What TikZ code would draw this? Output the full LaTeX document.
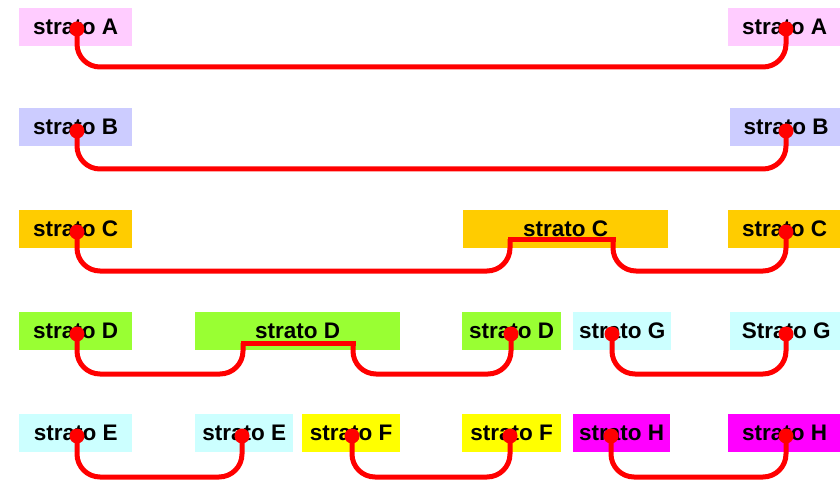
\documentclass[tikz,border=0pt]{standalone}
\usepackage{fontspec}
\setmainfont{Liberation Sans}
\begin{document}
\begin{tikzpicture}[x=1pt,y=-1pt,
  lab/.style={anchor=north west,inner sep=0pt,minimum height=38pt,
    font=\fontsize{22.5}{26}\selectfont\bfseries,text=black},
  conn/.style={draw=red,line width=5pt,rounded corners=23pt},
  flat/.style={draw=red,line width=5pt,line cap=rect},
  dot/.style={fill=red}]
\useasboundingbox (0,0) rectangle (840,481);
\definecolor{cpink}{HTML}{FFCCFF}
\definecolor{clav}{HTML}{CCCCFF}
\definecolor{corange}{HTML}{FFCC00}
\definecolor{cgreen}{HTML}{99FF33}
\definecolor{ccyan}{HTML}{CCFFFF}
\definecolor{cyellow}{HTML}{FFFF00}
\definecolor{cmag}{HTML}{FF00FF}
% row 1
\node[lab,fill=cpink,minimum width=113pt] (A1) at (19,8) {strato A};
\node[lab,fill=cpink,minimum width=113pt] (A2) at (728,8) {strato A};
% row 2
\node[lab,fill=clav,minimum width=113pt] (B1) at (19,108) {strato B};
\node[lab,fill=clav,minimum width=112pt] (B2) at (730,108) {strato B};
% row 3
\node[lab,fill=corange,minimum width=113pt] (C1) at (19,210) {strato C};
\node[lab,fill=corange,minimum width=205pt] (C2) at (463,210) {strato C};
\node[lab,fill=corange,minimum width=113pt] (C3) at (728,210) {strato C};
% row 4
\node[lab,fill=cgreen,minimum width=113pt] (D1) at (19,312) {strato D};
\node[lab,fill=cgreen,minimum width=205pt] (D2) at (195,312) {strato D};
\node[lab,fill=cgreen,minimum width=99pt] (D3) at (462,312) {strato D};
\node[lab,fill=ccyan,minimum width=98pt] (G1) at (573,312) {strato G};
\node[lab,fill=ccyan,minimum width=112pt] (G2) at (730,312) {Strato G};
% row 5
\node[lab,fill=ccyan,minimum width=113pt] (E1) at (19,414) {strato E};
\node[lab,fill=ccyan,minimum width=98pt] (E2) at (195,414) {strato E};
\node[lab,fill=cyellow,minimum width=98pt] (F1) at (302,414) {strato F};
\node[lab,fill=cyellow,minimum width=99pt] (F2) at (462,414) {strato F};
\node[lab,fill=cmag,minimum width=97pt] (H1) at (573,414) {strato H};
\node[lab,fill=cmag,minimum width=113pt] (H2) at (728,414) {strato H};
% dot coordinates
\coordinate (a1) at (77,29);  \coordinate (a2) at (786,29);
\coordinate (b1) at (77,131); \coordinate (b2) at (786,131);
\coordinate (c1) at (77,232); \coordinate (c3) at (786,232);
\coordinate (c2l) at (510,239); \coordinate (c2r) at (613,239);
\coordinate (d1) at (77,334); \coordinate (d3) at (511,334);
\coordinate (d2l) at (243,343); \coordinate (d2r) at (353,343);
\coordinate (g1) at (612,334); \coordinate (g2) at (786,334);
\coordinate (e1) at (77,436); \coordinate (e2) at (242,436);
\coordinate (f1) at (352,436); \coordinate (f2) at (510,436);
\coordinate (h1) at (611,436); \coordinate (h2) at (786,436);
% connectors
\draw[conn] (a1) |- ([yshift=-38pt]a2) -- (a2);
\draw[conn] (b1) |- ([yshift=-38pt]b2) -- (b2);
\draw[conn] (c1) |- ([yshift=-32pt]c2l) -- (c2l);
\draw[flat] (c2l) -- (c2r);
\draw[conn] (c2r) |- ([yshift=-39pt]c3) -- (c3);
\draw[conn] (d1) |- ([yshift=-31pt]d2l) -- (d2l);
\draw[flat] (d2l) -- (d2r);
\draw[conn] (d2r) |- ([yshift=-40pt]d3) -- (d3);
\draw[conn] (g1) |- ([yshift=-40pt]g2) -- (g2);
\draw[conn] (e1) |- ([yshift=-41pt]e2) -- (e2);
\draw[conn] (f1) |- ([yshift=-41pt]f2) -- (f2);
\draw[conn] (h1) |- ([yshift=-41pt]h2) -- (h2);
% dots
\foreach \p in {a1,a2,b1,b2,c1,c3,d1,d3,g1,g2,e1,e2,f1,f2,h1,h2}
  \fill[dot] (\p) circle (7.5pt);
\end{tikzpicture}
\end{document}
